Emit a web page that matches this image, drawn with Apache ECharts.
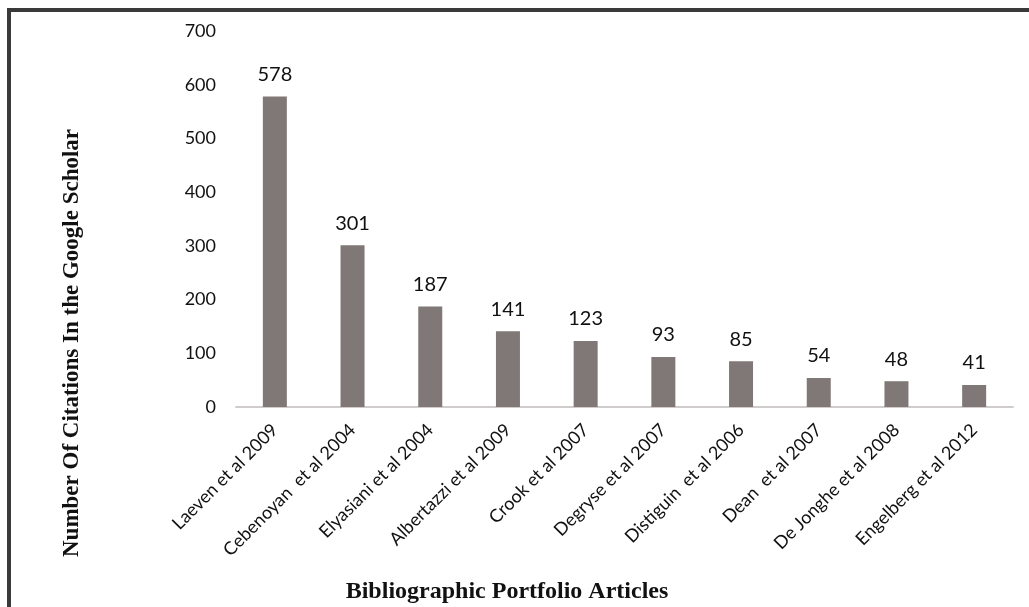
<!DOCTYPE html>
<html>
<head>
<meta charset="utf-8">
<script src="https://cdn.jsdelivr.net/npm/echarts@6/dist/echarts.min.js"></script>
<style>
  html, body { margin: 0; padding: 0; background: #fff; }
  #main { width: 1029px; height: 607px; }
</style>
</head>
<body>
<div id="main"></div>
<script>
// article names and their citation counts
var articles = [
  'Laeven et al 2009', 'Cebenoyan  et al 2004', 'Elyasiani et al 2004',
  'Albertazzi et al 2009', 'Crook et al 2007', 'Degryse et al 2007',
  'Distiguin  et al 2006', 'Dean  et al 2007', 'De Jonghe et al 2008',
  'Engelberg et al 2012'
];
var citations = [578, 301, 187, 141, 123, 93, 85, 54, 48, 41];
var yTicks = [0, 100, 200, 300, 400, 500, 600, 700];
var xTitle = 'Bibliographic Portfolio Articles';
var yTitle = 'Number Of Citations In the Google Scholar';

var myChart = echarts.init(document.getElementById('main'));

var titleFont = { fontFamily: 'Liberation Serif', fontWeight: 'bold', fill: '#111' };

var option = {
  backgroundColor: '#ffffff',
  animation: false,
  grid: { left: 236, right: 16, top: 31, bottom: 200, outerBoundsMode: 'none' },
  graphic: [
    // frame lines on top and left edge
    { type: 'rect', shape: { x: 7, y: 8, width: 1022, height: 4 }, style: { fill: '#3a3a3a' } },
    { type: 'rect', shape: { x: 7, y: 8, width: 4, height: 599 }, style: { fill: '#3a3a3a' } },
    // axis titles
    {
      type: 'text', x: 507, y: 592,
      style: Object.assign({ text: xTitle, align: 'center', verticalAlign: 'middle', fontSize: 24 }, titleFont)
    },
    {
      type: 'text', x: 72, y: 343, rotation: Math.PI / 2,
      style: Object.assign({ text: yTitle, align: 'center', verticalAlign: 'middle', fontSize: 23 }, titleFont)
    }
  ],
  xAxis: {
    type: 'category',
    data: articles,
    axisLine: { lineStyle: { color: '#d0cccb', width: 2 } },
    axisTick: { show: false },
    axisLabel: {
      interval: 0,
      rotate: 45,
      margin: 20,
      fontFamily: 'Lato',
      fontSize: 18,
      color: '#111'
    }
  },
  yAxis: {
    type: 'value',
    min: yTicks[0],
    max: yTicks[yTicks.length - 1],
    interval: 100,
    axisLine: { show: false },
    axisTick: { show: false },
    splitLine: { show: false },
    axisLabel: { margin: 20, fontFamily: 'Lato', fontSize: 18, color: '#111' }
  },
  series: [{
    type: 'bar',
    data: citations,
    barWidth: 24,
    itemStyle: { color: '#7f7876' },
    label: {
      show: true,
      position: 'top',
      distance: 12,
      fontFamily: 'Lato',
      fontSize: 20,
      color: '#111'
    }
  }]
};

myChart.setOption(option);
</script>
</body>
</html>
